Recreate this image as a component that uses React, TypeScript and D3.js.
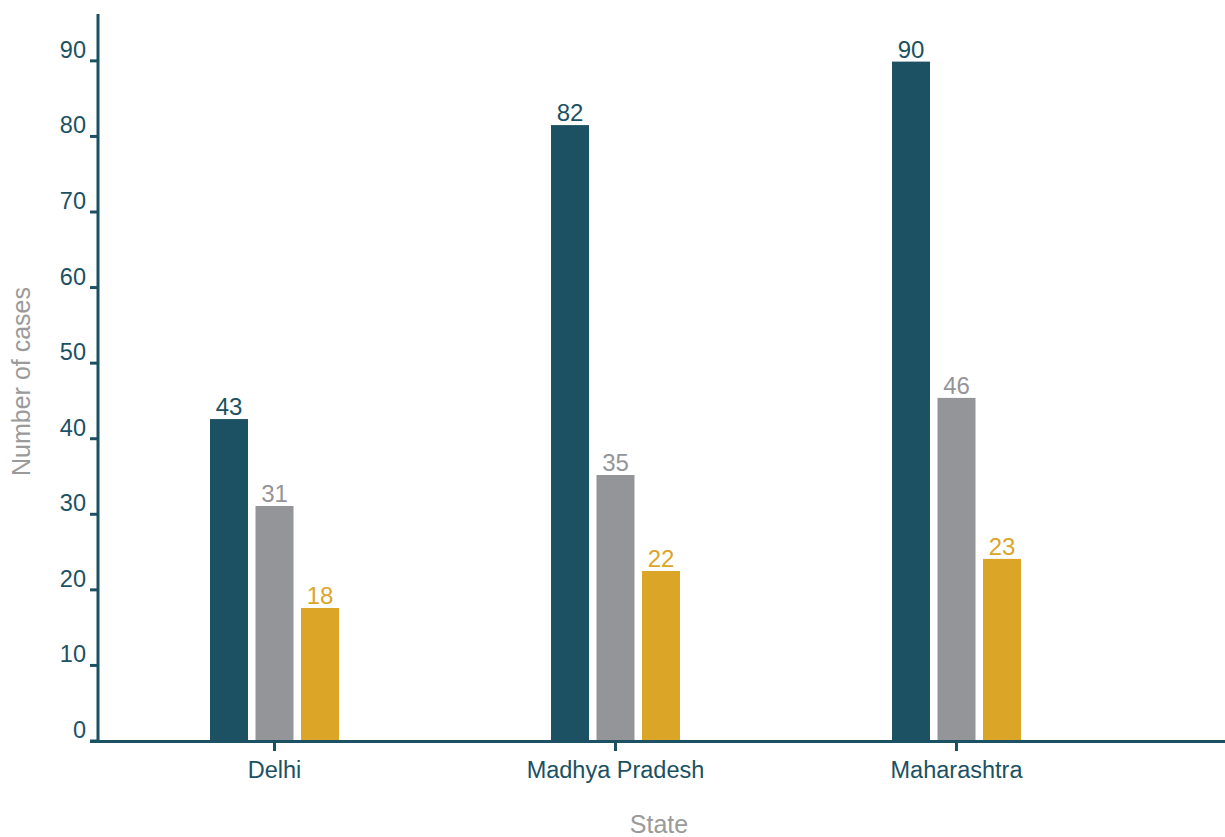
import React from "react";
import * as d3 from "d3";

const states = ["Delhi", "Madhya Pradesh", "Maharashtra"];
const seriesKeys = ["s1", "s2", "s3"];
// bar heights
const series1 = [42.6, 81.5, 89.9];
const series2 = [31.1, 35.2, 45.4];
const series3 = [17.6, 22.5, 24.1];
// printed value labels
const labels1 = ["43", "82", "90"];
const labels2 = ["31", "35", "46"];
const labels3 = ["18", "22", "23"];
const yTicks = [0, 10, 20, 30, 40, 50, 60, 70, 80, 90];
const colors = ["#1b5163", "#949599", "#dba527"];

const W = 1225;
const H = 837;
const FONT = "'Liberation Sans', Arial, sans-serif";
const AXIS = "#1b5163";

export default function App() {
  const y = d3.scaleLinear().domain([0, 96.2]).range([741, 14]);
  const x = d3.scalePoint<string>().domain(states).range([104, 1127]).padding(0.5);
  const inner = d3
    .scaleBand<string>()
    .domain(seriesKeys)
    .range([-64.5, 64.5])
    .paddingInner(0.165)
    .paddingOuter(0);
  const values = [series1, series2, series3];
  const labels = [labels1, labels2, labels3];
  const x0 = 98;

  return (
    <svg
      width={W}
      height={H}
      style={{ position: "absolute", left: 0, top: 0, display: "block", background: "#fff" }}
      fontFamily={FONT}
    >
      {/* bars */}
      {states.map((s, i) => (
        <g key={s}>
          {seriesKeys.map((k, j) => {
            const v = values[j][i];
            const bx = (x(s) as number) + (inner(k) as number);
            return (
              <g key={k}>
                <rect x={bx} y={y(v)} width={inner.bandwidth()} height={y(0) - y(v)} fill={colors[j]} />
                <text
                  x={bx + inner.bandwidth() / 2}
                  y={y(v) - 4}
                  textAnchor="middle"
                  fontSize={24}
                  fill={colors[j]}
                >
                  {labels[j][i]}
                </text>
              </g>
            );
          })}
        </g>
      ))}
      {/* y axis */}
      <line x1={x0} x2={x0} y1={y.range()[1]} y2={743} stroke={AXIS} strokeWidth={3} />
      {yTicks.map((t) => (
        <g key={t}>
          <line x1={x0 - 8} x2={x0} y1={y(t)} y2={y(t)} stroke={AXIS} strokeWidth={3} />
          <text x={x0 - 12} y={y(t) - 3} textAnchor="end" fontSize={23.5} fill={AXIS}>
            {t}
          </text>
        </g>
      ))}
      {/* x axis */}
      <line x1={90} x2={W} y1={y(0) + 0.5} y2={y(0) + 0.5} stroke={AXIS} strokeWidth={3} />
      {states.map((s) => (
        <g key={s}>
          <line x1={x(s)} x2={x(s)} y1={y(0)} y2={y(0) + 10} stroke={AXIS} strokeWidth={3} />
          <text x={x(s)} y={y(0) + 37} textAnchor="middle" fontSize={23.5} fill={AXIS}>
            {s}
          </text>
        </g>
      ))}
      {/* axis titles */}
      <text x={659} y={833} textAnchor="middle" fontSize={25} fill="#9a9a9a">
        State
      </text>
      <text
        transform={`translate(30, ${(283 + 480) / 2}) rotate(-90)`}
        textAnchor="middle"
        fontSize={25}
        fill="#9a9a9a"
      >
        Number of cases
      </text>
    </svg>
  );
}
